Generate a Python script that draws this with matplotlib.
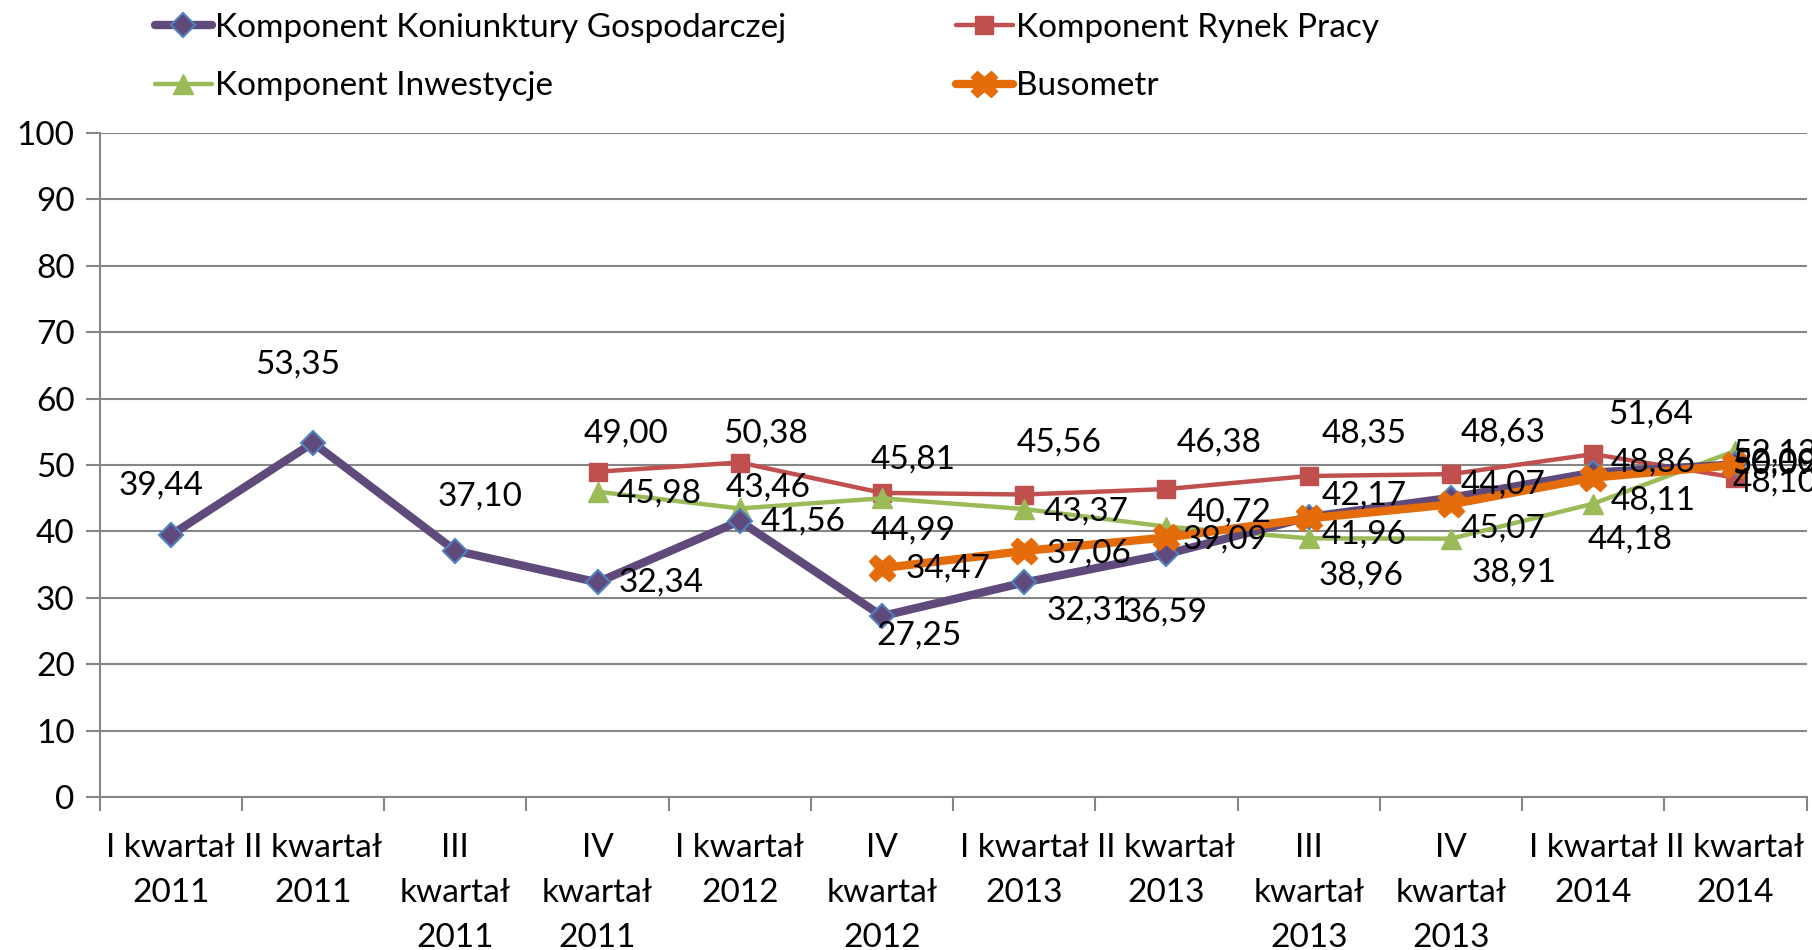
import numpy as np
import matplotlib
matplotlib.use('Agg')
import matplotlib.pyplot as plt

plt.rcParams['font.family'] = ['Lato', 'DejaVu Sans']

categories = ['I kwartał\n2011', 'II kwartał\n2011', 'III\nkwartał\n2011', 'IV\nkwartał\n2011',
              'I kwartał\n2012', 'IV\nkwartał\n2012', 'I kwartał\n2013', 'II kwartał\n2013',
              'III\nkwartał\n2013', 'IV\nkwartał\n2013', 'I kwartał\n2014', 'II kwartał\n2014']

nan = np.nan
koniunktura = [39.44, 53.35, 37.10, 32.34, 41.56, 27.25, 32.31, 36.59, 42.17, 45.07, 48.86, 50.09]
rynek_pracy = [nan, nan, nan, 49.00, 50.38, 45.81, 45.56, 46.38, 48.35, 48.63, 51.64, 48.10]
inwestycje = [nan, nan, nan, 45.98, 43.46, 44.99, 43.37, 40.72, 38.96, 38.91, 44.18, 52.13]
busometr = [nan, nan, nan, nan, nan, 34.47, 37.06, 39.09, 41.96, 44.07, 48.11, 50.00]

# label offsets (pixels in the reference, x right / y up)
off_kon = [(-8, 43), (-13, 68), (21, 47), (55, 0), (55, 0), (32, -17), (56, -24),
           (-1, -51), (48, 19), (45, -27), (52, 9), (34, 0)]
off_ryn = [None, None, None, (25, 33), (22, 25), (27, 29), (30, 45), (46, 40),
           (48, 37), (45, 36), (50, 34), (34, -4)]
off_inw = [None, None, None, (53, -2), (25, 18), (27, -28), (54, -2), (54, 12),
           (45, -32), (55, -29), (32, -31), (34, -2)]
off_bus = [None] * 5 + [(57, 0), (56, -2), (51, -2), (48, -14), (45, 17), (52, -20), (34, 2)]

FS = 24
x = np.arange(len(categories))

fig = plt.figure(figsize=(18.12, 9.5), dpi=100)
ax = fig.add_axes([0.055, 0.161, 0.942, 0.699])

series = [
    ('Komponent Koniunktury Gospodarczej', koniunktura, off_kon,
     dict(color='#604A7B', lw=6, marker='D', ms=12, mfc='#604A7B', mec='#4F81BD', mew=1.5, zorder=3)),
    ('Komponent Rynek Pracy', rynek_pracy, off_ryn,
     dict(color='#C0504D', lw=3.2, marker='s', ms=13, mfc='#C0504D', mec='#C0504D', zorder=2)),
    ('Komponent Inwestycje', inwestycje, off_inw,
     dict(color='#9BBB59', lw=3.2, marker='^', ms=14, mfc='#9BBB59', mec='#9BBB59', zorder=2)),
    ('Busometr', busometr, off_bus,
     dict(color='#E46C0A', lw=6, marker='X', ms=19, mfc='#E46C0A', mec='#E46C0A', zorder=4)),
]

handles = {}
for name, vals, offs, style in series:
    h, = ax.plot(x, vals, label=name, solid_capstyle='round', **style)
    handles[name] = h
    k = 1.1556 / 1.389
    for xi, v, o in zip(x, vals, offs):
        if o is None or np.isnan(v):
            continue
        ax.annotate(f'{v:.2f}'.replace('.', ','), (xi, v),
                    xytext=(o[0] * k, o[1] * k), textcoords='offset points',
                    ha='center', va='center', fontsize=FS, color='black',
                    annotation_clip=False, zorder=6)

ax.set_xlim(-0.5, len(categories) - 0.5)
ax.set_ylim(0, 100)
ax.set_yticks(np.arange(0, 101, 10))
ax.yaxis.grid(True, color='#868686', lw=1.5)
ax.set_axisbelow(True)

ax.set_xticks(x)
ax.set_xticklabels(categories, fontsize=FS, linespacing=1.62)
ax.tick_params(axis='x', length=0, pad=26)
ax.set_xticks(np.arange(-0.5, len(categories), 1), minor=True)
ax.tick_params(axis='x', which='minor', length=10, width=1.5, color='#868686', direction='out')
ax.tick_params(axis='y', labelsize=FS, length=10, width=1.5, color='#868686', direction='out', pad=8)

for s in ['top', 'right']:
    ax.spines[s].set_visible(False)
for s in ['left', 'bottom']:
    ax.spines[s].set_color('#868686')
    ax.spines[s].set_linewidth(1.5)

order = ['Komponent Koniunktury Gospodarczej', 'Komponent Inwestycje',
         'Komponent Rynek Pracy', 'Busometr']
fig.legend([handles[n] for n in order], order, loc='upper left',
           bbox_to_anchor=(0.069, 1.018), ncol=2, frameon=False, fontsize=FS,
           handlelength=1.7, handletextpad=0.1, columnspacing=5.1, labelspacing=0.85)

fig.savefig('out.png', dpi=100)
